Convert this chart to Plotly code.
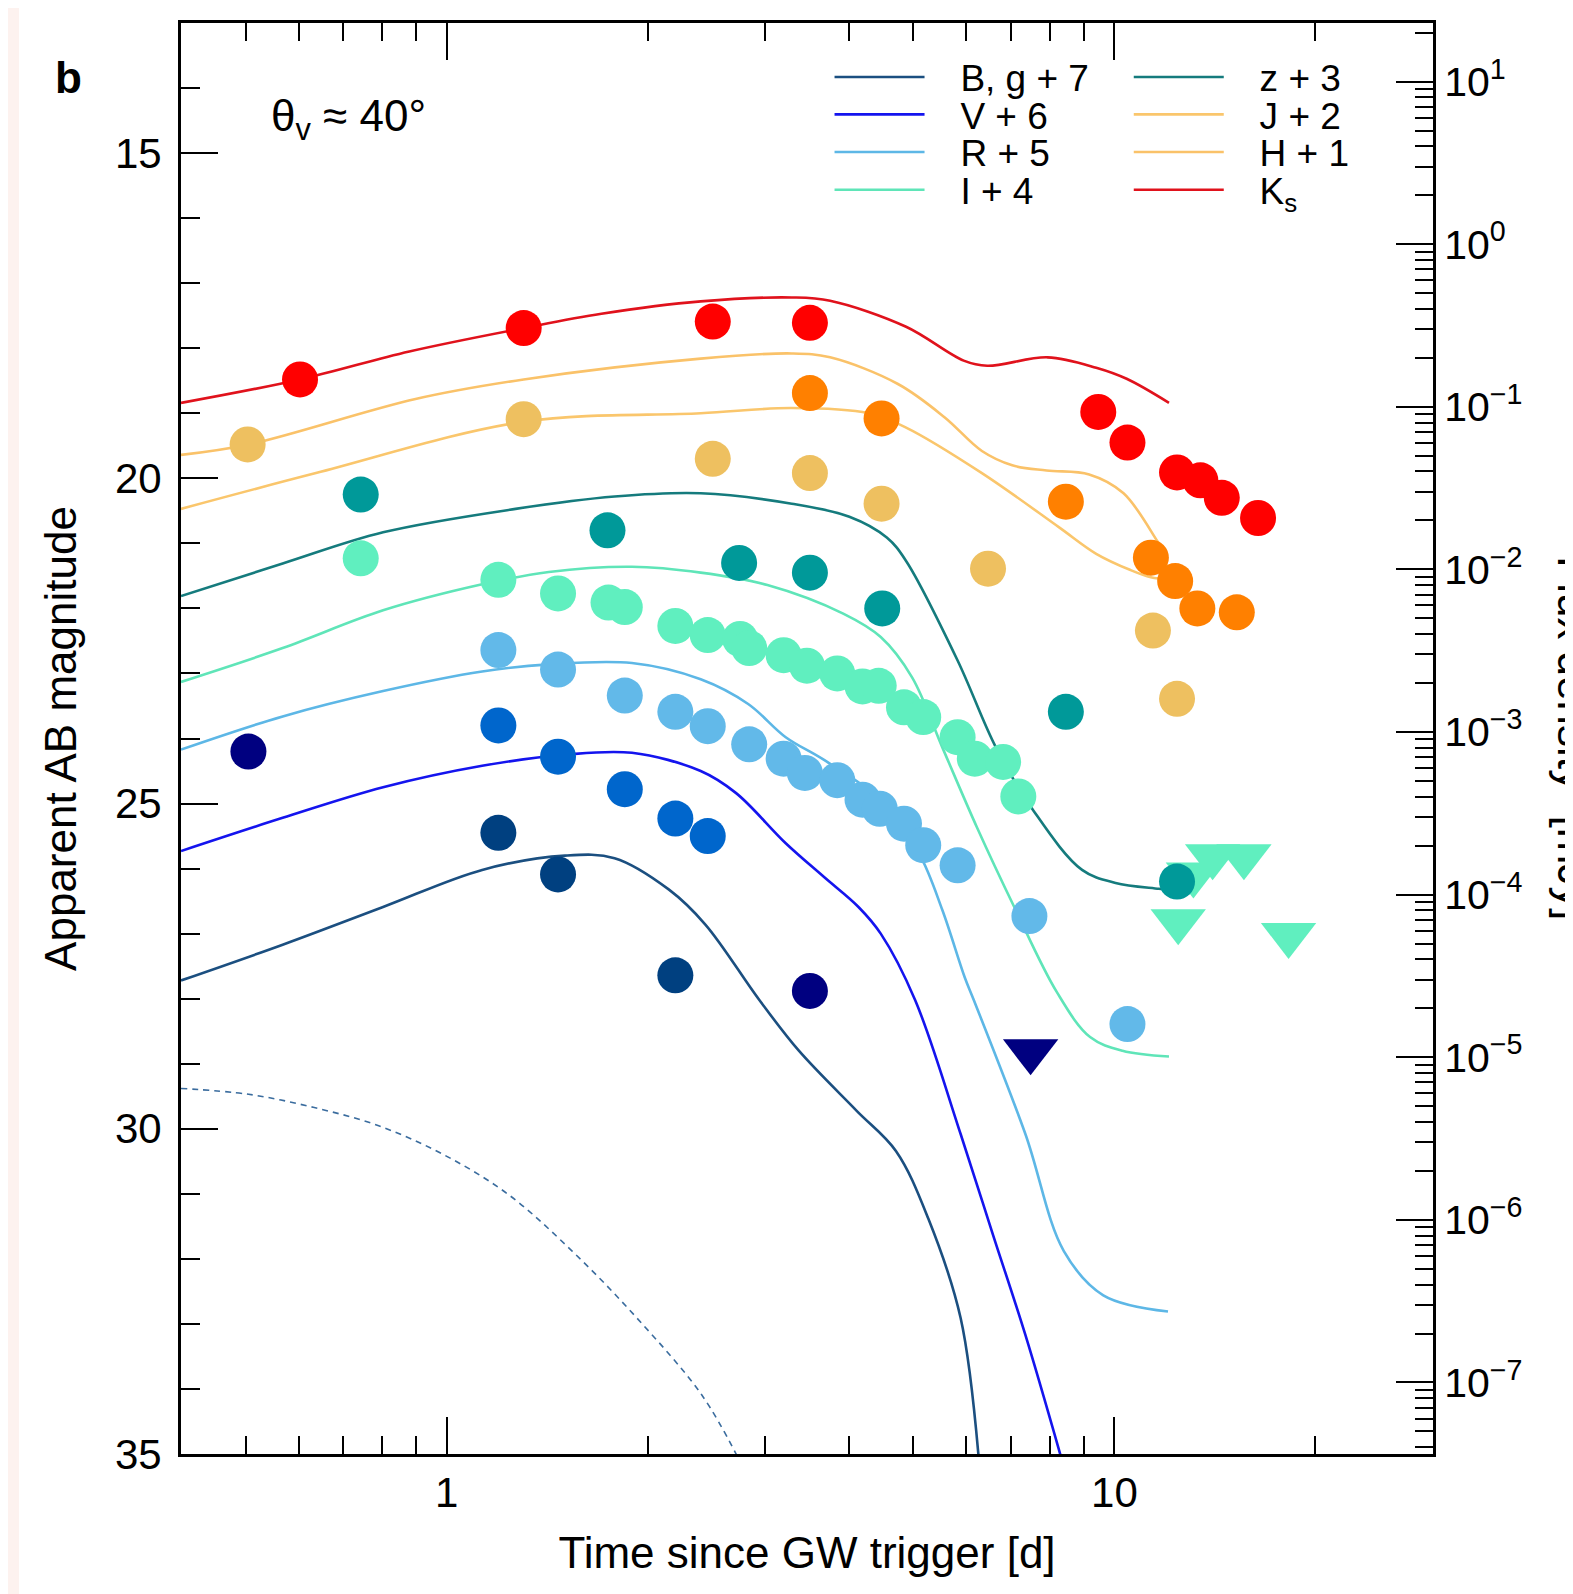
import numpy as np
import plotly.graph_objects as go

# ---------------- model curves (time [d], AB mag) ----------------
t_Bg = [0.40, 0.568, 0.803, 1.130, 1.504, 1.784, 2.15, 2.44, 2.939, 3.368, 4.108, 4.707, 5.263, 5.884, 6.266]
m_Bg = [27.72, 27.17, 26.59, 26.02, 25.80, 25.84, 26.32, 26.86, 28.02, 28.80, 29.72, 30.34, 31.38, 32.91, 35.09]

t_V = [0.40, 0.568, 0.803, 1.130, 1.504, 1.894, 2.401, 2.713, 3.219, 3.674, 4.137, 4.467, 5.029, 5.884, 6.579, 7.356, 8.341]
m_V = [25.73, 25.22, 24.75, 24.42, 24.25, 24.22, 24.50, 24.84, 25.61, 26.13, 26.59, 27.0, 28.02, 30.08, 31.63, 33.17, 35.09]

t_R = [0.40, 0.568, 0.803, 1.130, 1.422, 1.894, 2.401, 2.828, 3.219, 3.674, 4.467, 5.100, 5.526, 5.967, 6.157, 7.356, 8.399, 9.624, 12.03]
m_R = [24.17, 23.66, 23.27, 22.97, 22.86, 22.84, 23.09, 23.47, 23.98, 24.33, 24.95, 25.77, 26.64, 27.67, 28.02, 30.08, 31.88, 32.56, 32.81]

t_I = [0.40, 0.568, 0.803, 1.130, 1.422, 1.894, 2.401, 3.022, 3.925, 4.467, 4.977, 5.526, 6.221, 7.079, 8.2, 9.195, 10.28, 12.07]
m_I = [23.13, 22.61, 22.03, 21.63, 21.44, 21.36, 21.45, 21.64, 22.08, 22.44, 23.06, 24.14, 25.36, 26.59, 27.9, 28.59, 28.80, 28.89]

t_z = [0.40, 0.568, 0.803, 1.268, 1.784, 2.401, 3.287, 4.009, 4.561, 4.875, 5.823, 6.648, 7.565, 8.944, 10.04, 11.66, 12.07]
m_z = [21.81, 21.31, 20.83, 20.47, 20.28, 20.23, 20.39, 20.59, 20.91, 21.27, 22.80, 24.14, 25.11, 26.02, 26.22, 26.31, 26.33]

t_J = [0.40, 0.637, 1.304, 2.401, 3.287, 4.284, 4.875, 6.332, 8.254, 9.391, 10.57, 11.34, 12.07]
m_J = [20.47, 19.92, 19.13, 19.0, 18.92, 19.0, 19.22, 19.92, 20.75, 21.16, 21.41, 21.52, 21.55]

t_H = [0.40, 0.505, 0.898, 1.304, 2.401, 3.287, 3.751, 4.740, 5.565, 6.332, 7.031, 7.914, 9.166, 10.32, 11.62, 12.0]
m_H = [19.64, 19.48, 18.78, 18.48, 18.16, 18.08, 18.14, 18.55, 19.06, 19.58, 19.80, 19.88, 19.94, 20.23, 20.98, 21.2]

t_K = [0.40, 0.603, 0.879, 1.304, 1.705, 2.401, 3.287, 3.751, 4.875, 5.946, 6.449, 7.943, 9.391, 10.43, 12.07]
m_K = [18.84, 18.48, 18.05, 17.69, 17.47, 17.28, 17.22, 17.27, 17.67, 18.19, 18.27, 18.14, 18.30, 18.47, 18.84]

t_dash = [0.40, 0.505, 0.631, 0.789, 0.986, 1.233, 1.541, 1.927, 2.409, 2.722]
m_dash = [29.38, 29.47, 29.67, 29.95, 30.39, 31.0, 31.88, 32.91, 34.09, 35.03]

# ---------------- observed points ----------------
obs_K_t = [0.603, 1.304, 2.503, 3.499, 9.458, 10.46, 12.41, 13.45, 14.48, 16.41]
obs_K_m = [18.48, 17.69, 17.59, 17.61, 18.98, 19.45, 19.91, 20.03, 20.30, 20.61]

obs_H_t = [3.499, 4.48, 8.458, 11.34, 12.33, 13.31, 15.25]
obs_H_m = [18.69, 19.08, 20.36, 21.22, 21.58, 22.0, 22.06]

obs_J_t = [0.5033, 1.304, 2.503, 3.499, 4.48, 6.467, 11.42, 12.41]
obs_J_m = [19.48, 19.09, 19.70, 19.92, 20.39, 21.39, 22.34, 23.39]

obs_z_t = [0.7434, 1.741, 2.741, 3.499, 4.49, 8.458, 12.41]
obs_z_m = [20.25, 20.80, 21.30, 21.45, 22.0, 23.59, 26.20]

obs_I_t = [0.7434, 1.195, 1.468, 1.747, 1.848, 2.200, 2.460, 2.750, 2.838, 3.196, 3.463, 3.845, 4.195, 4.436,
           4.840, 5.172, 5.823, 6.179, 6.812, 7.179]
obs_I_m = [21.23, 21.56, 21.77, 21.91, 21.98, 22.27, 22.41, 22.47, 22.61, 22.72, 22.88, 23.0, 23.20, 23.19,
           23.52, 23.67, 23.98, 24.31, 24.36, 24.89]
lim_I_t = [12.46, 13.13, 14.03, 15.63, 18.23]
lim_I_m = [26.81, 26.09, 25.81, 25.81, 27.02]

obs_R_t = [1.195, 1.468, 1.848, 2.200, 2.460, 2.838, 3.196, 3.439, 3.845, 4.195, 4.452, 4.840, 5.172, 5.823, 7.459, 10.46]
obs_R_m = [22.64, 22.94, 23.34, 23.59, 23.81, 24.09, 24.31, 24.53, 24.64, 24.94, 25.08, 25.31, 25.64, 25.95, 26.73, 28.39]

obs_V_t = [1.195, 1.468, 1.848, 2.200, 2.460]
obs_V_m = [23.80, 24.28, 24.78, 25.23, 25.50]

obs_g_t = [1.195, 1.468, 2.200]
obs_g_m = [25.45, 26.09, 27.64]

obs_B_t = [0.5047, 3.499]
obs_B_m = [24.20, 27.88]
lim_B_t = [7.49]
lim_B_m = [28.81]

# ---------------- axis tick values ----------------
x_major = [1, 10]
x_major_text = ["1", "10"]
x_minor = [0.5, 0.6, 0.7, 0.8, 0.9, 2, 3, 4, 5, 6, 7, 8, 9, 20]
y_major = [15, 20, 25, 30, 35]
y_minor = list(range(13, 36))
flux_exps = list(range(-7, 2))

MAG_MIN, MAG_MAX = 13, 35
ZP = np.log10(3631e3)  # AB zero point in mJy
flux_range = [ZP - MAG_MAX / 2.5, ZP - MAG_MIN / 2.5]
flux_major = [10.0 ** e for e in flux_exps]
flux_major_text = ["10<sup>" + (str(e) if e >= 0 else "\u2212" + str(-e)) + "</sup>" for e in flux_exps]
flux_minor = [m * 10.0 ** e for e in range(-8, 2) for m in range(2, 10)
              if flux_range[0] <= np.log10(m * 10.0 ** e) <= flux_range[1]]

FONT = "Liberation Sans, Arial, Helvetica, sans-serif"

fig = go.Figure()

curves = [
    ("B, g + 7", t_Bg, m_Bg, "#1b4f80", "legend"),
    ("V + 6", t_V, m_V, "#1414ee", "legend2"),
    ("R + 5", t_R, m_R, "#5db7e6", "legend3"),
    ("I + 4", t_I, m_I, "#5fe5b8", "legend4"),
    ("z + 3", t_z, m_z, "#157b7d", "legend5"),
    ("J + 2", t_J, m_J, "#fac66c", "legend6"),
    ("H + 1", t_H, m_H, "#fac269", "legend7"),
    ("K<sub>s</sub>", t_K, m_K, "#e0121c", "legend8"),
]

fig.add_trace(go.Scatter(x=t_dash, y=m_dash, mode="lines", showlegend=False,
                         line=dict(color="#3a6c9e", width=1.6, dash="6px,5px", shape="spline", smoothing=1.0)))

for name, tx, my, col, lg in curves:
    fig.add_trace(go.Scatter(x=tx, y=my, mode="lines", name="\u00a0\u00a0\u00a0" + name, legend=lg,
                             line=dict(color=col, width=2.6, shape="spline", smoothing=1.0)))

fig.add_trace(go.Scatter(x=lim_I_t, y=lim_I_m, mode="markers", showlegend=False,
                         marker=dict(symbol="triangle-down", size=48, color="#60efbf", line=dict(width=0))))
fig.add_trace(go.Scatter(x=lim_B_t, y=lim_B_m, mode="markers", showlegend=False,
                         marker=dict(symbol="triangle-down", size=48, color="#000080", line=dict(width=0))))

points = [
    (obs_K_t, obs_K_m, "#ff0000"),
    (obs_H_t, obs_H_m, "#ff8000"),
    (obs_J_t, obs_J_m, "#eec060"),
    (obs_z_t, obs_z_m, "#009999"),
    (obs_I_t, obs_I_m, "#60efbf"),
    (obs_R_t, obs_R_m, "#62b9e9"),
    (obs_V_t, obs_V_m, "#0066cc"),
    (obs_g_t, obs_g_m, "#004080"),
    (obs_B_t, obs_B_m, "#000080"),
]
for tx, my, col in points:
    fig.add_trace(go.Scatter(x=tx, y=my, mode="markers", showlegend=False,
                             marker=dict(symbol="circle", size=36, color=col, line=dict(width=0))))

axis_common = dict(showline=True, linewidth=3, linecolor="black", ticks="inside", tickwidth=2,
                   tickcolor="black", showgrid=False, zeroline=False)

fig.update_layout(
    width=1565, height=1586,
    margin=dict(l=173, r=140, t=13, b=140),
    paper_bgcolor="white", plot_bgcolor="white",
    font=dict(family=FONT, color="black", size=42),
    showlegend=True,
    xaxis=dict(type="log", range=[np.log10(0.4), np.log10(30)], tickmode="array", tickvals=x_major,
               ticktext=x_major_text, ticklen=37, mirror="ticks", tickfont=dict(size=42),
               minor=dict(tickmode="array", tickvals=x_minor, ticks="inside", ticklen=18, tickwidth=2,
                          tickcolor="black", showgrid=False),
               title=dict(text="Time since GW trigger [d]", font=dict(size=44), standoff=22),
               **axis_common),
    yaxis=dict(range=[MAG_MAX, MAG_MIN], tickmode="array", tickvals=y_major, ticklen=37,
               tickfont=dict(size=42), mirror=False, ticklabelstandoff=8,
               minor=dict(tickmode="array", tickvals=y_minor, ticks="inside", ticklen=19, tickwidth=2,
                          tickcolor="black", showgrid=False),
               title=dict(text="Apparent AB magnitude", font=dict(size=44), standoff=25),
               **axis_common),
    yaxis2=dict(type="log", overlaying="y", side="right", range=flux_range, tickmode="array",
                tickvals=flux_major, ticktext=flux_major_text, ticklen=37, tickfont=dict(size=41),
                minor=dict(tickmode="array", tickvals=flux_minor, ticks="inside", ticklen=18, tickwidth=2,
                           tickcolor="black", showgrid=False),
                **axis_common),
)

col_x = [0.518, 0.757]
row_y = [0.962, 0.9358, 0.9095, 0.8832]
leg_names = ["legend", "legend2", "legend3", "legend4", "legend5", "legend6", "legend7", "legend8"]
for i, ln in enumerate(leg_names):
    fig.update_layout({ln: dict(x=col_x[i // 4], y=row_y[i % 4], xanchor="left", yanchor="middle",
                                bgcolor="rgba(0,0,0,0)", borderwidth=0, itemwidth=90,
                                font=dict(size=37, family=FONT, color="black"))})

fig.add_trace(go.Scatter(x=[None], y=[None], yaxis="y2", showlegend=False, hoverinfo="skip"))

fig.add_annotation(text="<b>b</b>", xref="paper", yref="paper", x=-0.0895, y=0.9616,
                   xanchor="center", yanchor="middle", showarrow=False, font=dict(size=44, family=FONT))
fig.add_annotation(text="\u03b8<sub>v</sub> \u2248 40\u00b0", xref="paper", yref="paper", x=0.134, y=0.933,
                   xanchor="center", yanchor="middle", showarrow=False, font=dict(size=44, family=FONT))
fig.add_annotation(text="Flux density  [mJy]", xref="paper", yref="paper", x=1.112, y=0.5,
                   xanchor="center", yanchor="middle", showarrow=False, textangle=90,
                   font=dict(size=44, family=FONT))

fig.add_shape(type="rect", xref="paper", yref="paper", x0=-0.2, x1=-0.1294, y0=-0.2, y1=1.2,
              fillcolor="#fdf2ef", line=dict(width=0), layer="below")

fig.write_html("out.html")
